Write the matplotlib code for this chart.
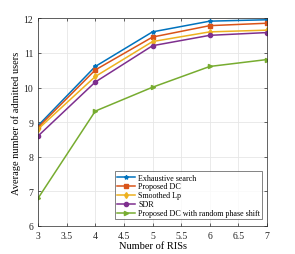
import numpy as np
import matplotlib
matplotlib.use("Agg")
import matplotlib.pyplot as plt

plt.rcParams['font.family'] = ['Liberation Serif', 'DejaVu Serif']

num_ris = [3, 4, 5, 6, 7]
exhaustive = [8.9, 10.61, 11.61, 11.92, 11.96]
proposed_dc = [8.85, 10.51, 11.46, 11.79, 11.86]
smoothed_lp = [8.8, 10.32, 11.33, 11.61, 11.66]
sdr = [8.6, 10.16, 11.21, 11.51, 11.59]
dc_random = [6.8, 9.32, 10.01, 10.61, 10.81]

series = [
    ("Exhaustive search", exhaustive, "#0072BD", "*"),
    ("Proposed DC", proposed_dc, "#D95319", "s"),
    ("Smoothed Lp", smoothed_lp, "#EDB120", "d"),
    ("SDR", sdr, "#7E2F8E", "o"),
    ("Proposed DC with random phase shift", dc_random, "#77AC30", ">"),
]

fig = plt.figure(figsize=(2.95, 2.55), dpi=100)
ax = fig.add_axes([0.129, 0.11, 0.776, 0.814])

for label, vals, color, marker in series:
    ax.plot(num_ris, vals, color=color, marker=marker, markersize=3, linewidth=1.1, label=label)

ax.set_xlim(3, 7)
ax.set_ylim(6, 12)
ax.set_xticks([3, 3.5, 4, 4.5, 5, 5.5, 6, 6.5, 7])
ax.set_xticklabels(["3", "3.5", "4", "4.5", "5", "5.5", "6", "6.5", "7"])
ax.set_yticks([6, 7, 8, 9, 10, 11, 12])
ax.grid(True, color="#e6e6e6", linewidth=0.6)
ax.tick_params(direction="in", labelsize=7, length=2, width=0.5, colors="#262626", top=True, right=True)
for s in ax.spines.values():
    s.set_color("#262626")
    s.set_linewidth(0.5)
ax.set_xlabel("Number of RISs", fontsize=7.5, labelpad=1)
ax.set_ylabel("Average number of admitted users", fontsize=7.5, labelpad=2)

leg = ax.legend(loc="lower right", fontsize=5.8, frameon=True, fancybox=False,
                edgecolor="#262626", handlelength=2.2, borderpad=0.25, labelspacing=0.12,
                handletextpad=0.4, borderaxespad=0.3, bbox_to_anchor=(0.99, 0.02))
leg.get_frame().set_linewidth(0.5)

fig.savefig("out.png", dpi=100)
